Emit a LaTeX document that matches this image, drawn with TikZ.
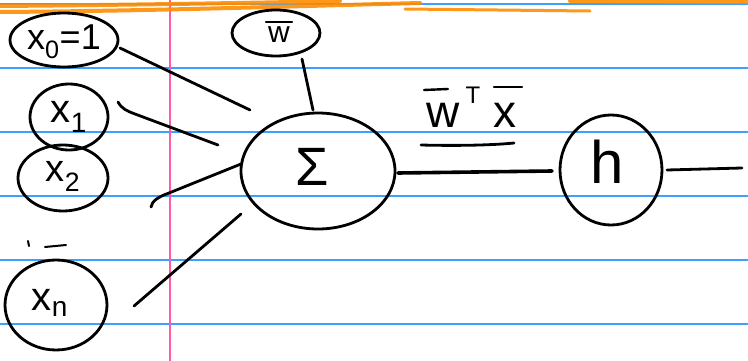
\documentclass[tikz,border=0pt]{standalone}
\usepackage{fontspec}
\setmainfont{Liberation Sans}
\usetikzlibrary{shapes.geometric}
\definecolor{ruleblue}{RGB}{60,160,255}
\definecolor{marginpink}{RGB}{255,90,170}
\definecolor{hlorange}{RGB}{255,140,0}
\begin{document}
\begin{tikzpicture}[x=1pt,y=-1pt,
  ell/.style={ellipse,draw=black,line width=2.8pt,inner sep=0pt},
  txt/.style={inner sep=0pt,text=black},
  wire/.style={line width=2.8pt,line cap=round,black},
  bar/.style={line width=2.4pt,line cap=round,black},
  hl/.style={hlorange,line width=4pt,line cap=round,opacity=0.9}]
\useasboundingbox (0,0) rectangle (748,361);
\fill[white] (0,0) rectangle (748,361);
% lined paper
\foreach \yy in {4,68,132,196,260,324} \draw[ruleblue,line width=1.4pt] (0,\yy) -- (748,\yy);
\draw[marginpink,line width=1.4pt] (170,0) -- (170,361);
% orange highlighter strokes
\draw[hl] (0,12) .. controls (150,11) and (300,6) .. (420,3);
\draw[hl] (0,6) .. controls (120,5) and (250,3) .. (340,1);
\draw[hl,line width=3pt] (405,9) -- (590,11);
\draw[hl] (570,1) -- (748,2);
% nodes
\node[ell,minimum width=108,minimum height=54] (x0) at (64,40) {};
\node[txt,font=\fontsize{36}{38}\selectfont] (x0t) at (64,42) {x\textsubscript{0}=1};
\node[ell,minimum width=78,minimum height=66] (x1) at (69,117) {};
\node[txt,font=\fontsize{40}{42}\selectfont] (x1t) at (69,117) {x\textsubscript{1}};
\node[ell,minimum width=90,minimum height=66] (x2) at (63,178) {};
\node[txt,font=\fontsize{38}{40}\selectfont] (x2t) at (63,176) {x\textsubscript{2}};
\node[ell,minimum width=102,minimum height=90] (xn) at (56,305) {};
\node[txt,font=\fontsize{40}{42}\selectfont] (xnt) at (50,303) {x\textsubscript{n}};
\node[ell,minimum width=88,minimum height=46] (w) at (276,33) {};
\node[txt,font=\fontsize{30}{32}\selectfont,anchor=base] (wt) at (279,43) {w};
\draw[bar] ([shift={(-2,-5)}]wt.north west) -- ([shift={(2,-5)}]wt.north east);
\node[ell,minimum width=154,minimum height=116] (sum) at (318,171) {};
\node[txt,font=\fontsize{54}{56}\selectfont] (sumt) at (312,167) {Σ};
\node[ell,minimum width=102,minimum height=110] (h) at (611,170) {};
\node[txt,font=\fontsize{60}{62}\selectfont] (ht) at (607,162) {h};
\coordinate (out) at (742,168);
% label w^T x
\node[txt,font=\fontsize{46}{48}\selectfont,anchor=base] (lw) at (443,128) {w};
\node[txt,font=\fontsize{24}{26}\selectfont,anchor=base] (lt) at (473,103) {T};
\node[txt,font=\fontsize{46}{48}\selectfont,anchor=base] (lx) at (505,128) {x};
\draw[bar] (424,90) -- (448,89);
\draw[bar] (494,87) -- (522,87);
\draw[wire] (421,145) .. controls (460,146) and (495,145) .. (514,143);
% connectors
\draw[wire] ([shift={(56,8)}]x0.center) -- ([shift={(-68,-61)}]sum.center);
\draw[wire] ([shift={(49,-15)}]x1.center) .. controls ([shift={(53,-8)}]x1.center) and ([shift={(58,-6)}]x1.center) .. ([shift={(66,-3)}]x1.center) -- ([shift={(-100,-26)}]sum.center);
\draw[wire] ([shift={(88,29)}]x2.center) .. controls ([shift={(89,23)}]x2.center) and ([shift={(95,19)}]x2.center) .. ([shift={(106,15)}]x2.center) -- ([shift={(-77,-7)}]sum.center);
\draw[wire] ([shift={(78,1)}]xn.center) -- ([shift={(-77,43)}]sum.center);
\draw[wire] ([shift={(26,26)}]w.center) -- ([shift={(-5,-61)}]sum.center);
\draw[wire,line width=3.6pt] ([shift={(80,2)}]sum.center) -- ([shift={(-59,1)}]h.center);
\draw[wire] ([shift={(56,0)}]h.center) -- (out);
% small marks
\draw[wire,line width=2pt] (28,241) -- (29,246);
\draw[wire,line width=2pt] (45,247) -- (66,245);
\end{tikzpicture}
\end{document}
